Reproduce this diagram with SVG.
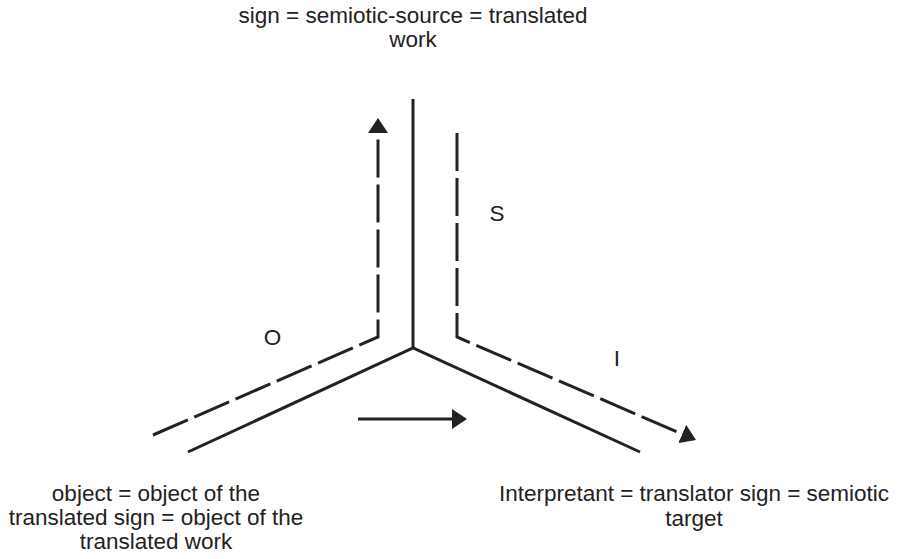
<svg xmlns="http://www.w3.org/2000/svg" width="899" height="559" viewBox="0 0 899 559">
<style>
text{font-family:"Liberation Sans",Arial,sans-serif;font-size:22.5px;fill:#222;text-anchor:middle}
.solid{fill:none;stroke:#222;stroke-width:3}
.dash{fill:none;stroke:#222;stroke-width:3;stroke-dasharray:38 7}
</style>
<defs>
<marker id="ah" viewBox="0 0 15 20" refX="5" refY="10" markerWidth="15" markerHeight="20" markerUnits="userSpaceOnUse" orient="auto">
<path d="M0,0 L15,10 L0,20 z" fill="#222"/>
</marker>
</defs>
<g id="connectors">
<polyline class="solid" points="413,99 413,348"/>
<polyline class="solid" points="188,452 413,348 640,452"/>
<polyline class="dash" points="153,435 378,337 378,128" marker-end="url(#ah)"/>
<polyline class="dash" points="457,133 457,337 686.8,436" marker-end="url(#ah)"/>
<line class="solid" x1="358" y1="419" x2="457" y2="419" marker-end="url(#ah)"/>
</g>
<g id="sign"><text x="413" y="23">sign = semiotic-source = translated</text><text x="413" y="47">work</text></g>
<g id="object"><text x="156" y="501">object = object of the</text><text x="156" y="525">translated sign = object of the</text><text x="156" y="549">translated work</text></g>
<g id="interpretant"><text x="694" y="501">Interpretant = translator sign = semiotic</text><text x="694" y="526">target</text></g>
<g id="labels"><text x="272.5" y="345">O</text><text x="497" y="221">S</text><text x="617" y="366">I</text></g>
</svg>
